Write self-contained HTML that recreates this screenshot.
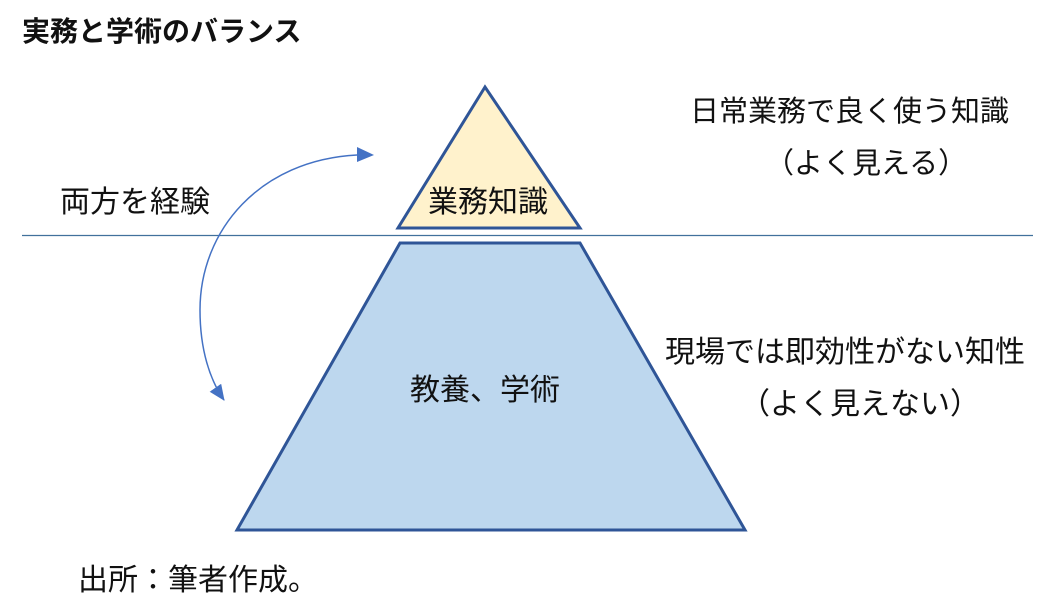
<!DOCTYPE html>
<html><head><meta charset="utf-8"><style>
body{margin:0;width:1056px;height:602px;background:#fff;position:relative;overflow:hidden;font-family:"Liberation Sans","Noto Sans CJK JP",sans-serif;}
.t{position:absolute;white-space:nowrap;color:#111;font-size:30px;line-height:1;}
</style></head><body>
<svg width="1056" height="602" style="position:absolute;left:0;top:0">
<defs>
<marker id="b" markerWidth="16" markerHeight="14" refX="15" refY="7" orient="auto" markerUnits="userSpaceOnUse"><path d="M0,0 L16,7 L0,14 Z" fill="#4472c4"/></marker></defs>
<line x1="22" y1="235.5" x2="1033" y2="235.5" stroke="#41719c" stroke-width="1.2"/>
<polygon points="485,87 398,228 580,228" fill="#fff2cc" stroke="#2f5597" stroke-width="3"/>
<polygon points="400,243 580,243 745,530 237,530" fill="#bdd7ee" stroke="#2f5597" stroke-width="3"/>
<path d="M357,155 C260,160 200,230 200,310 C200,350 210,380 224,400" fill="none" stroke="#4472c4" stroke-width="1.5" marker-end="url(#b)"/>
<polygon points="357,147 374,155 357,162" fill="#4472c4"/>
</svg>
<div class="t" style="left:22px;top:18px;font-size:28px;font-weight:bold">実務と学術のバランス</div>
<div class="t" style="left:428px;top:188px">業務知識</div>
<div class="t" style="left:60px;top:188px">両方を経験</div>
<div class="t" style="left:690px;top:98px;font-size:29px">日常業務で良く使う知識</div>
<div class="t" style="left:765px;top:150px;font-size:29px">（よく見える）</div>
<div class="t" style="left:410px;top:376px">教養、学術</div>
<div class="t" style="left:665px;top:338px">現場では即効性がない知性</div>
<div class="t" style="left:740px;top:390px">（よく見えない）</div>
<div class="t" style="left:78px;top:566px">出所：筆者作成。</div>
</body></html>
